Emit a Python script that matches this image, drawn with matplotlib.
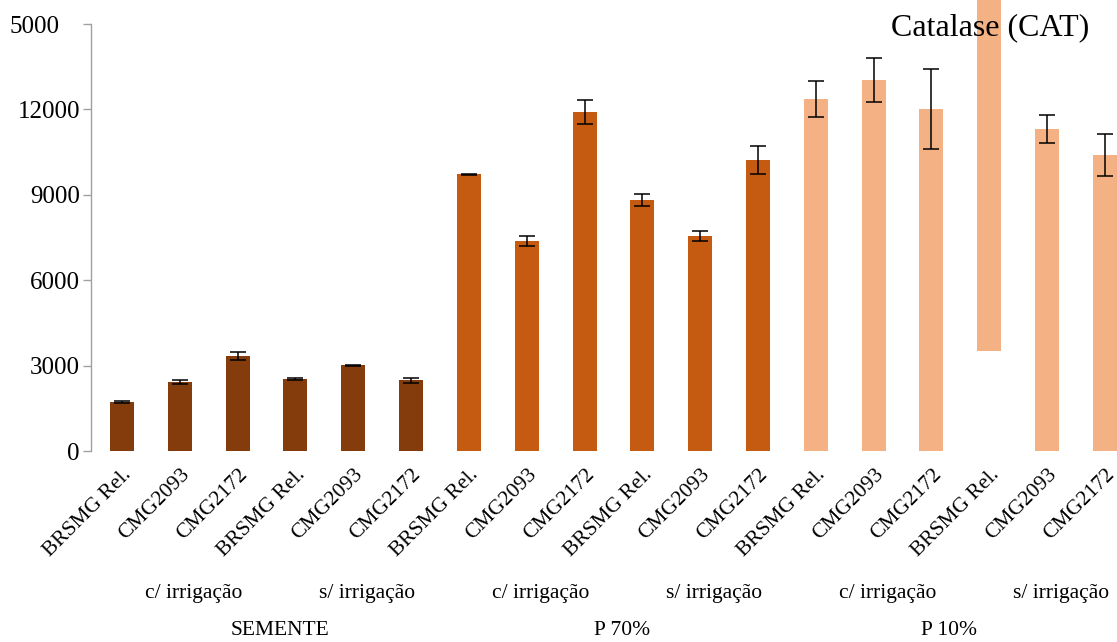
import matplotlib.pyplot as plt
from matplotlib import transforms
import numpy as np

plt.rcParams["font.family"] = ["Liberation Serif", "DejaVu Serif"]

# Catalase activity per cultivar, irrigation regime and treatment
cultivares = ["BRSMG Rel.", "CMG2093", "CMG2172"] * 6
irrigacao = ["c/ irrigação", "s/ irrigação"] * 3
tratamentos = ["SEMENTE", "P 70%", "P 10%"]

cat_base = [0, 0, 0, 0, 0, 0,
            0, 0, 0, 0, 0, 0,
            0, 0, 0, 3500, 0, 0]
cat_top = [1720, 2425, 3335, 2530, 3010, 2490,
           9730, 7380, 11910, 8820, 7550, 10220,
           12365, 13035, 12015, 17000, 11310, 10400]
cat_err = [50, 70, 140, 20, 20, 90,
           20, 190, 420, 200, 180, 500,
           630, 770, 1390, 0, 490, 755]

cores = ["#843C0C", "#C55A11", "#F4B183"]

x = np.arange(len(cat_top))
base = np.array(cat_base)
top = np.array(cat_top)
err = np.array(cat_err)
bar_colors = [cores[i // 6] for i in range(len(x))]

fig = plt.figure(figsize=(11.17, 6.42), dpi=100)
ax = fig.add_axes([0.0815, 0.2975, 0.9185, 0.665])

ax.bar(x, top - base, bottom=base, width=0.415, color=bar_colors, clip_on=False, zorder=2)
has_err = err > 0
ax.errorbar(x[has_err], top[has_err], yerr=err[has_err], fmt="none", ecolor="black",
            elinewidth=1.1, capsize=6, capthick=1.1, zorder=3, clip_on=False)

ax.set_xlim(-0.536, 17.21)
ax.set_ylim(0, 15000)
ax.set_yticks([0, 3000, 6000, 9000, 12000, 15000])
ax.set_yticklabels(["0", "3000", "6000", "9000", "12000", "5000"])
ax.tick_params(axis="y", colors="#A0A0A0", length=6, width=1, labelsize=18,
               labelcolor="black", pad=2)
last = ax.get_yticklabels()[-1]
last.set_transform(last.get_transform() +
                   transforms.ScaledTranslation(-20 / 100, 0, fig.dpi_scale_trans))

ax.set_xticks(x)
ax.set_xticklabels(cultivares, rotation=45, ha="right", va="center",
                   rotation_mode="anchor", fontsize=15.5)
ax.tick_params(axis="x", length=0, pad=15)
shift = transforms.ScaledTranslation(7 / 100, 0, fig.dpi_scale_trans)
for lab in ax.get_xticklabels():
    lab.set_transform(lab.get_transform() + shift)

for s in ["top", "right", "bottom"]:
    ax.spines[s].set_visible(False)
ax.spines["left"].set_color("#A0A0A0")
ax.spines["left"].set_linewidth(1)

# second and third level of the category axis
trans = transforms.blended_transform_factory(ax.transData, fig.transFigure)
for i, rotulo in enumerate(irrigacao):
    ax.text(i * 3 + 1.24, 0.076, rotulo, transform=trans, fontsize=15.5,
            ha="center", va="center")
for xc, rotulo in zip([2.74, 8.65, 14.3], tratamentos):
    ax.text(xc, 0.018, rotulo, transform=trans, fontsize=15.5, ha="center", va="center")

fig.text(990 / 1117, 1 - 28 / 642, "Catalase (CAT)", fontsize=23, ha="center", va="center")

fig.savefig("out.png", dpi=100)
